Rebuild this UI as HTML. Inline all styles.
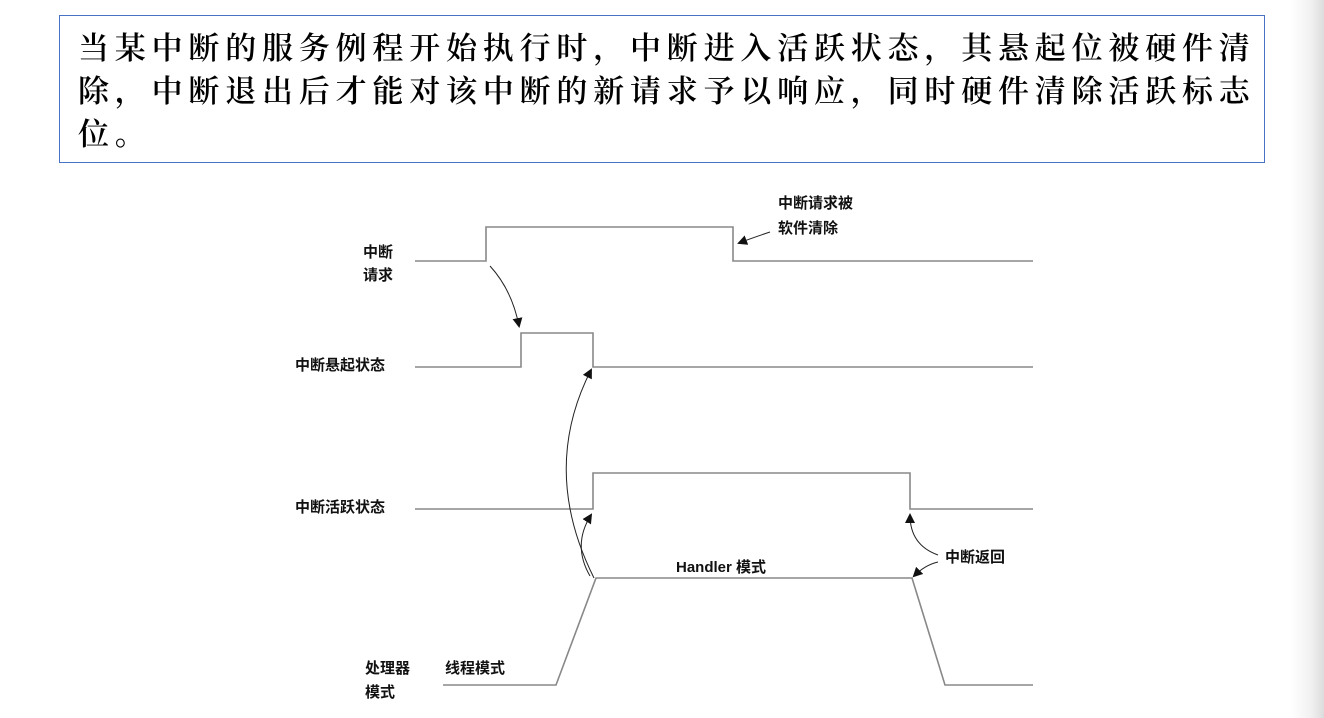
<!DOCTYPE html>
<html><head><meta charset="utf-8"><style>
html,body{margin:0;padding:0;width:1324px;height:718px;overflow:hidden;background:#fff;}
.grad{position:absolute;left:1290px;top:0;width:34px;height:718px;background:linear-gradient(to right,#fff,#f2f2f2 60%,#dcdcdc);}
.box{position:absolute;left:59px;top:15px;width:1206px;height:148px;border:1.5px solid #4a72c4;box-sizing:border-box;}
.txt{position:absolute;left:78px;top:27px;width:1250px;white-space:nowrap;font-family:"Liberation Serif","Noto Serif CJK SC",serif;font-weight:600;font-size:31px;line-height:43px;letter-spacing:5.8px;color:#000;}
svg{position:absolute;left:0;top:0;}
svg text{font-family:"Liberation Sans","Noto Sans CJK SC",sans-serif;font-weight:bold;font-size:15px;fill:#111;}
</style></head><body>
<div class="grad"></div>
<div class="box"></div>
<div class="txt">当某中断的服务例程开始执行时，中断进入活跃状态，其悬起位被硬件清<br>除，中断退出后才能对该中断的新请求予以响应，同时硬件清除活跃标志<br>位。</div>
<svg width="1324" height="718" viewBox="0 0 1324 718">
<defs><marker id="a" markerWidth="10" markerHeight="10" refX="8" refY="5" orient="auto" markerUnits="userSpaceOnUse"><path d="M0,0 L10,5 L0,10 z" fill="#111"/></marker></defs>
<g fill="none" stroke="#888" stroke-width="1.6">
<polyline points="415,261 486,261 486,227 733,227 733,261 1033,261"/>
<polyline points="415,367 521,367 521,333 593,333 593,367 1033,367"/>
<polyline points="415,509 593,509 593,473 910,473 910,509 1033,509"/>
<polyline points="443,685 556,685 596,578 912,578 945,685 1033,685"/>
</g>
<g fill="none" stroke="#222" stroke-width="1">
<path d="M490,266 Q512,290 519,326" marker-end="url(#a)"/>
<path d="M770,232 Q752,238 739,243" marker-end="url(#a)"/>
<path d="M594,578 Q540,470 591,370" marker-end="url(#a)"/>
<path d="M590,576 Q572,545 591,515" marker-end="url(#a)"/>
<path d="M938,555 Q910,545 910,515" marker-end="url(#a)"/>
<path d="M938,562 Q925,565 914,576" marker-end="url(#a)"/>
</g>
<text x="363" y="257">中断</text>
<text x="363" y="280">请求</text>
<text x="778" y="208">中断请求被</text>
<text x="778" y="233">软件清除</text>
<text x="295" y="370">中断悬起状态</text>
<text x="295" y="512">中断活跃状态</text>
<text x="676" y="572">Handler 模式</text>
<text x="945" y="562">中断返回</text>
<text x="365" y="673">处理器</text>
<text x="365" y="697">模式</text>
<text x="445" y="673">线程模式</text>
</svg>
</body></html>
